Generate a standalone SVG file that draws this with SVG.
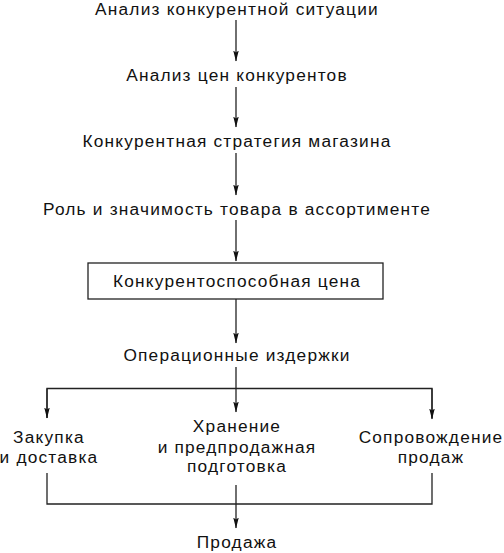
<svg xmlns="http://www.w3.org/2000/svg" width="504" height="553" viewBox="0 0 504 553">
<defs>
<style>
text{font-family:"Liberation Sans",Arial,sans-serif;font-size:17.3px;letter-spacing:1.2px;fill:#111;text-anchor:middle}
.ln{stroke:#222;stroke-width:1.3;fill:none}
</style>
<marker id="arr" markerUnits="userSpaceOnUse" markerWidth="11" markerHeight="20" refX="17" refY="5" orient="auto" viewBox="0 0 18 10">
<path d="M0,0.5 L3,5 L0,9.5 L18,5 Z" fill="#111"/>
</marker>
</defs>
<rect width="504" height="553" fill="#fff"/>
<g id="n1"><text x="237" y="15">Анализ конкурентной ситуации</text></g>
<g id="n2"><text x="237" y="81">Анализ цен конкурентов</text></g>
<g id="n3"><text x="237" y="147">Конкурентная стратегия магазина</text></g>
<g id="n4"><text x="237" y="215">Роль и значимость товара в ассортименте</text></g>
<g id="n5"><rect x="88" y="263" width="295" height="36" fill="#fff" stroke="#222" stroke-width="1.3"/><text x="237" y="287">Конкурентоспособная цена</text></g>
<g id="n6"><text x="237" y="361">Операционные издержки</text></g>
<g id="n7"><text x="49" y="443">Закупка</text><text x="49" y="463">и доставка</text></g>
<g id="n8"><text x="237" y="432">Хранение</text><text x="237" y="453">и предпродажная</text><text x="237" y="472">подготовка</text></g>
<g id="n9"><text x="431" y="443">Сопровождение</text><text x="431" y="463">продаж</text></g>
<g id="n10"><text x="237" y="548">Продажа</text></g>
<g id="connectors">
<path class="ln" d="M236,20 V61" marker-end="url(#arr)"/>
<path class="ln" d="M236,87 V127" marker-end="url(#arr)"/>
<path class="ln" d="M236,153 V195" marker-end="url(#arr)"/>
<path class="ln" d="M236,220 V261" marker-end="url(#arr)"/>
<path class="ln" d="M236,299 V343" marker-end="url(#arr)"/>
<path class="ln" d="M236,367 V412" marker-end="url(#arr)"/>
<path class="ln" d="M47,418 V388.5 H432 V418"/>
<path class="ln" d="M47,388.5 V418" marker-end="url(#arr)"/>
<path class="ln" d="M432,388.5 V419" marker-end="url(#arr)"/>
<path class="ln" d="M47,473 V504 H432 V473"/>
<path class="ln" d="M236,485 V528" marker-end="url(#arr)"/>
</g>
</svg>
